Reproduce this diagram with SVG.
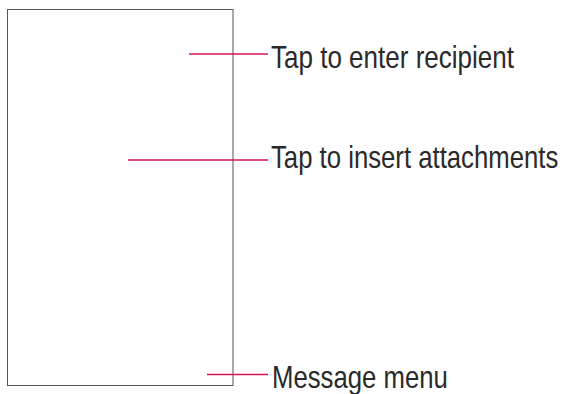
<svg xmlns="http://www.w3.org/2000/svg" width="565" height="394" viewBox="0 0 565 394">
<style>
.lbl{font-family:"Liberation Sans","DejaVu Sans",sans-serif;font-size:31px;fill:#2a2a2a}
.lead{stroke:#d4145a;stroke-width:1.3;fill:none}
</style>
<rect width="565" height="394" fill="#fff"/>
<g id="screen"><rect x="7.5" y="9.5" width="225.5" height="376" fill="none" stroke="#555" stroke-width="1"/></g>
<g id="connectors">
<line class="lead" x1="189" y1="54" x2="268" y2="54"/>
<line class="lead" x1="128" y1="160" x2="268" y2="160"/>
<line class="lead" x1="207" y1="374.5" x2="268" y2="374.5"/>
</g>
<g id="label-recipient" transform="translate(271,67.5) scale(0.84,1)"><text class="lbl" x="0" y="0">Tap to enter recipient</text></g>
<g id="label-attachments" transform="translate(271,167.5) scale(0.83,1)"><text class="lbl" x="0" y="0">Tap to insert attachments</text></g>
<g id="label-menu" transform="translate(272,388) scale(0.83,1)"><text class="lbl" x="0" y="0">Message menu</text></g>
</svg>
